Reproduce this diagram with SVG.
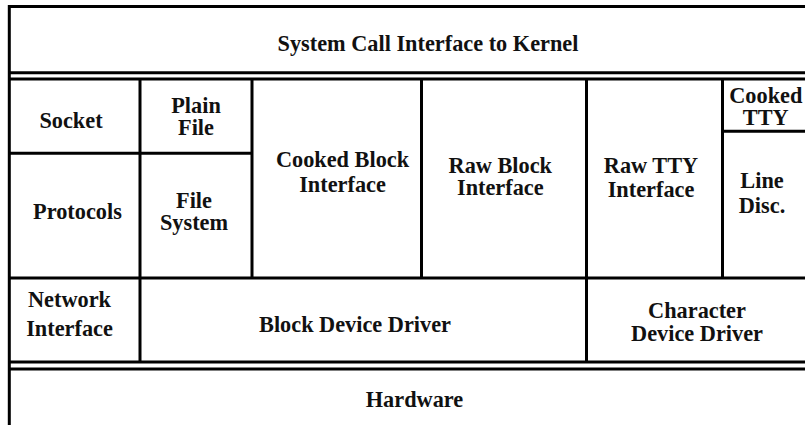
<svg xmlns="http://www.w3.org/2000/svg" width="805" height="425" viewBox="0 0 805 425">
  <style>
    .rule { stroke: #000; stroke-width: 3; fill: none; }
    .lbl { font-family: "Liberation Serif", "Times New Roman", serif; font-weight: bold; font-size: 22.3px; fill: #111; text-anchor: middle; }
  </style>
  <rect x="0" y="0" width="805" height="425" fill="#fff"/>

  <!-- frame and cell borders of the layered kernel stack -->
  <g id="grid" class="rule">
    <!-- outer frame (open on the right) -->
    <path d="M805 6.5 H9.3 V425"/>
    <!-- double rule under the system call layer -->
    <path d="M9.3 72.8 H805 M9.3 79 H805"/>
    <!-- middle band columns -->
    <path d="M140 79 V362 M252 79 V278 M421.5 79 V278 M586.5 79 V362 M722.5 79 V278"/>
    <!-- splits inside columns -->
    <path d="M9.3 153.3 H252 M722.5 131.3 H805"/>
    <!-- driver row top -->
    <path d="M9.3 278 H805"/>
    <!-- double rule above hardware -->
    <path d="M9.3 362 H805 M9.3 369 H805"/>
  </g>

  <g id="syscall"><text class="lbl" x="428" y="50.5">System Call Interface to Kernel</text></g>
  <g id="socket"><text class="lbl" x="71" y="128">Socket</text></g>
  <g id="plain-file"><text class="lbl" x="196" y="113.3">Plain<tspan x="196" dy="21.7">File</tspan></text></g>
  <g id="cooked-block"><text class="lbl" x="342.5" y="167.3">Cooked Block<tspan x="342.5" dy="24.2">Interface</tspan></text></g>
  <g id="raw-block"><text class="lbl" x="500.3" y="172.7">Raw Block<tspan x="500.3" dy="22.3">Interface</tspan></text></g>
  <g id="raw-tty"><text class="lbl" x="651" y="173.3">Raw TTY<tspan x="651" dy="23.2">Interface</tspan></text></g>
  <g id="cooked-tty"><text class="lbl" x="765.8" y="102.7">Cooked<tspan x="765.8" dy="21.8">TTY</tspan></text></g>
  <g id="line-disc"><text class="lbl" x="762" y="188.3">Line<tspan x="762" dy="24.4">Disc.</tspan></text></g>
  <g id="protocols"><text class="lbl" x="77.5" y="219">Protocols</text></g>
  <g id="file-system"><text class="lbl" x="194" y="208.3">File<tspan x="194" dy="21.2">System</tspan></text></g>
  <g id="network-interface"><text class="lbl" x="69.5" y="307.3">Network<tspan x="69.5" dy="28.2">Interface</tspan></text></g>
  <g id="block-driver"><text class="lbl" x="355" y="331.7">Block Device Driver</text></g>
  <g id="char-driver"><text class="lbl" x="697" y="318.3">Character<tspan x="697" dy="22.7">Device Driver</tspan></text></g>
  <g id="hardware"><text class="lbl" x="414.5" y="407.3">Hardware</text></g>
</svg>
